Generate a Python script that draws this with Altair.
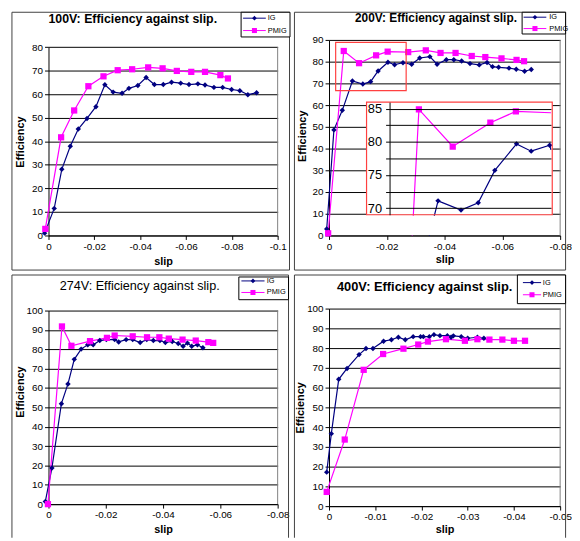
import altair as alt
import pandas as pd

FONT = "Liberation Sans"
SERIES = ["IG", "PMIG"]
SERIES_COLORS = ["#000080", "#ff00ff"]
SERIES_SHAPES = ["diamond", "square"]
SERIES_SIZES = [30, 40]

# ---------------- data ----------------
# 100V
slip_100_ig = [0.0017, -0.0025, -0.0058, -0.0095, -0.0130, -0.0168, -0.0207, -0.0246, -0.0282,
               -0.0321, -0.0351, -0.0390, -0.0426, -0.0462, -0.0501, -0.0537, -0.0577, -0.0613,
               -0.0652, -0.0683, -0.0722, -0.0760, -0.0799, -0.0835, -0.0870, -0.0908]
eff_100_ig = [1.0, 11.5, 28.1, 37.9, 45.2, 49.7, 54.7, 64.0, 60.9, 60.4, 62.5, 63.7, 67.1, 64.1,
              64.1, 65.1, 64.7, 64.1, 64.4, 63.9, 62.9, 62.9, 62.0, 61.5, 59.8, 60.6]
slip_100_pmig = [0.0014, -0.0055, -0.0112, -0.0174, -0.0240, -0.0302, -0.0365, -0.0435, -0.0498,
                 -0.0560, -0.0623, -0.0683, -0.0750, -0.0783]
eff_100_pmig = [2.8, 41.7, 53.1, 63.4, 67.6, 70.2, 70.6, 71.4, 71.0, 69.9, 69.5, 69.5, 68.1, 66.7]

# 200V
slip_200_ig = [0.0008, -0.0017, -0.0046, -0.0081, -0.0117, -0.0144, -0.0170, -0.0204, -0.0227,
               -0.0256, -0.0286, -0.0314, -0.0349, -0.0374, -0.0406, -0.0432, -0.0459, -0.0488,
               -0.0520, -0.0547, -0.0566, -0.0587, -0.0623, -0.0648, -0.0677, -0.0700]
eff_200_ig = [3.0, 48.6, 57.6, 71.1, 69.7, 70.8, 75.7, 79.7, 78.6, 79.5, 78.8, 81.7, 82.3, 78.8,
              80.9, 80.9, 80.3, 79.1, 78.5, 79.6, 77.7, 77.4, 77.0, 76.5, 75.6, 76.4]
slip_200_pmig = [0.0003, -0.0051, -0.0104, -0.0163, -0.0203, -0.0274, -0.0335, -0.0386, -0.0438,
                 -0.0494, -0.0541, -0.0597, -0.0649, -0.0675]
eff_200_pmig = [1.0, 84.9, 79.3, 82.9, 84.6, 84.4, 85.2, 84.0, 84.0, 82.6, 82.1, 81.5, 80.8, 80.2]

# 274V
slip_274_ig = [0.0011, -0.0012, -0.0045, -0.0068, -0.0090, -0.0114, -0.0137, -0.0156, -0.0179,
               -0.0202, -0.0231, -0.0245, -0.0271, -0.0294, -0.0320, -0.0343, -0.0366, -0.0389,
               -0.0408, -0.0432, -0.0453, -0.0470, -0.0485, -0.0500, -0.0520, -0.0539]
eff_274_ig = [1.4, 18.7, 51.9, 62.1, 74.8, 80.1, 82.3, 82.3, 84.5, 85.0, 85.0, 83.8, 85.0, 85.0,
              83.5, 85.0, 84.5, 84.5, 83.5, 84.0, 83.0, 81.6, 83.2, 81.6, 82.3, 80.8]
slip_274_pmig = [0.0002, -0.0047, -0.0080, -0.0145, -0.0204, -0.0231, -0.0294, -0.0344, -0.0387,
                 -0.0420, -0.0468, -0.0514, -0.0558, -0.0575]
eff_274_pmig = [0.0, 91.8, 81.8, 84.2, 85.9, 87.1, 86.7, 86.2, 86.2, 85.5, 85.0, 84.5, 83.7, 83.3]

# 400V
slip_400_ig = [0.0005, -0.0005, -0.0021, -0.0039, -0.0065, -0.0080, -0.0095, -0.0118, -0.0135,
               -0.0150, -0.0165, -0.0182, -0.0198, -0.0204, -0.0217, -0.0227, -0.0240, -0.0256,
               -0.0264, -0.0269, -0.0286, -0.0300, -0.0321, -0.0335]
eff_400_ig = [17.2, 36.7, 64.2, 69.7, 76.7, 79.8, 79.8, 83.5, 84.2, 85.5, 84.2, 85.8, 85.8, 85.8,
              85.8, 86.8, 86.3, 86.3, 85.5, 86.2, 85.8, 85.0, 85.5, 85.0]
slip_400_pmig = [0.0005, -0.0034, -0.0075, -0.0117, -0.0161, -0.0193, -0.0214, -0.0253, -0.0294,
                 -0.0321, -0.0347, -0.0375, -0.0400, -0.0424]
eff_400_pmig = [7.2, 33.7, 69.0, 77.0, 79.7, 81.8, 83.3, 84.5, 83.7, 84.5, 84.3, 84.3, 83.7, 83.7]

# axis ticks
x_ticks_100 = [0, -0.02, -0.04, -0.06, -0.08, -0.1]
x_ticks_200 = [0, -0.02, -0.04, -0.06, -0.08]
x_ticks_274 = [0, -0.02, -0.04, -0.06, -0.08]
x_ticks_400 = [0, -0.01, -0.02, -0.03, -0.04, -0.05]
y_ticks_100 = [0, 10, 20, 30, 40, 50, 60, 70, 80]
y_ticks_200 = [0, 10, 20, 30, 40, 50, 60, 70, 80, 90]
y_ticks_274 = [0, 10, 20, 30, 40, 50, 60, 70, 80, 90, 100]
y_ticks_400 = [0, 10, 20, 30, 40, 50, 60, 70, 80, 90, 100]

# 200V zoom window (main chart) and inset axes
zoom_slip = [-0.0023, -0.0267]
zoom_eff = [66.7, 88.9]
inset_slip_domain = [-0.0258, -0.0005]
inset_eff_domain = [69, 86]
inset_eff_ticks = [70, 72.5, 75, 77.5, 80, 82.5, 85]

LABEL_EXPR = "datum.value == 0 ? '0' : '-' + format(abs(datum.value), '.2~f')"


def make_df(ig_x, ig_y, pm_x, pm_y):
    rows = []
    for name, xs, ys in (("IG", ig_x, ig_y), ("PMIG", pm_x, pm_y)):
        for i, (x, y) in enumerate(zip(xs, ys)):
            rows.append({"slip": x, "eff": y, "series": name, "idx": i})
    return pd.DataFrame(rows)


one = pd.DataFrame({"k": [0]})

COLOR = alt.Color("series:N", scale=alt.Scale(domain=SERIES, range=SERIES_COLORS), legend=None)
SHAPE = alt.Shape("series:N", scale=alt.Scale(domain=SERIES, range=SERIES_SHAPES), legend=None)
SIZE = alt.Size("series:N", scale=alt.Scale(domain=SERIES, range=SERIES_SIZES), legend=None)


def box(x1, x2, y1, y2, fill="transparent", stroke="#404040", sw=1.0):
    return alt.Chart(one).mark_rect(fill=fill, stroke=stroke, strokeWidth=sw).encode(
        x=alt.value(x1), x2=alt.value(x2), y=alt.value(y1), y2=alt.value(y2))


def open_frame(x1, x2, y1, y2, stroke="#404040", sw=1.0):
    """Panel frame cut off at the bottom of the page (no bottom edge)."""
    mk = dict(color=stroke, strokeWidth=sw)
    return [
        alt.Chart(one).mark_rule(**mk).encode(x=alt.value(x1), x2=alt.value(x2), y=alt.value(y1)),
        alt.Chart(one).mark_rule(**mk).encode(x=alt.value(x1), y=alt.value(y1), y2=alt.value(y2)),
        alt.Chart(one).mark_rule(**mk).encode(x=alt.value(x2), y=alt.value(y1), y2=alt.value(y2)),
    ]


def legend_layers(bx1, bx2, by1, by2, ys, lx1, lx2, mx, tx):
    layers = [box(bx1, bx2, by1, by2, fill="white", stroke="black", sw=1)]
    for name, col, shp, sz, yy in zip(SERIES, SERIES_COLORS, SERIES_SHAPES, [22, 26], ys):
        layers.append(alt.Chart(one).mark_rule(color=col, strokeWidth=1).encode(
            x=alt.value(lx1), x2=alt.value(lx2), y=alt.value(yy)))
        layers.append(alt.Chart(one).mark_point(shape=shp, filled=True, color=col, size=sz, opacity=1).encode(
            x=alt.value(mx), y=alt.value(yy)))
        layers.append(alt.Chart(one).mark_text(align="left", baseline="middle", font=FONT, fontSize=7.5,
                                               color="black").encode(
            x=alt.value(tx), y=alt.value(yy), text=alt.value(name)))
    return layers


def title_layer(text, x, y, size, weight):
    return alt.Chart(one).mark_text(align="left", baseline="alphabetic", font=FONT, fontSize=size,
                                    fontWeight=weight, color="black").encode(
        x=alt.value(x), y=alt.value(y), text=alt.value(text))


def encodings(p):
    yscale = dict(domain=[0, p["ymax"]], nice=False, zero=False)
    if "yrange" in p:
        yscale["range"] = p["yrange"]
    X = alt.X("slip:Q", scale=alt.Scale(domain=[p["xmin"], 0], reverse=True, nice=False, zero=False),
              axis=alt.Axis(values=p["xticks"], labelExpr=LABEL_EXPR, title="slip", grid=False,
                            titleY=p["xtitle_y"], titleBaseline="middle", offset=p.get("xoff", 0)))
    Y = alt.Y("eff:Q", scale=alt.Scale(**yscale),
              axis=alt.Axis(values=p["yticks"], title="Efficiency", grid=True, titleX=p["ytitle_x"],
                            titleY=p["ytitle_y"], titleAngle=270, titleBaseline="middle",
                            titleAlign="center"))
    return X, Y


def data_layers(df, p, X, Y):
    border = alt.Chart(pd.DataFrame({"slip": [p["xmin"]], "eff": [0], "eff2": [p["ymax"]]})).mark_rule(
        color="#808080", strokeWidth=1).encode(x=X, y=Y, y2="eff2:Q")
    line = alt.Chart(df).mark_line(strokeWidth=1.2).encode(x=X, y=Y, color=COLOR, order="idx:Q")
    pts = alt.Chart(df).mark_point(filled=True, opacity=1).encode(x=X, y=Y, color=COLOR, shape=SHAPE, size=SIZE)
    return [border, line, pts]


def make_panel(df, p):
    X, Y = encodings(p)
    if p.get("open_frame"):
        layers = open_frame(*p["frame"])
    else:
        layers = [box(*p["frame"])]
    layers += data_layers(df, p, X, Y)
    layers.append(title_layer(*p["title"]))
    layers += legend_layers(*p["legend"])
    return alt.layer(*layers).properties(width=p["w"], height=p["h"])


p100 = dict(xmin=-0.1, ymax=80, xticks=x_ticks_100, yticks=y_ticks_100, yrange=[198, 7.3],
            xtitle_y=26.5, ytitle_x=-28, ytitle_y=103, w=232, h=198,
            frame=(-37, 244, -28, 233),
            title=("100V: Efficiency against slip.", 0, -17, 12.5, "bold"),
            legend=(195, 244.5, -28, -3, [-22, -9.5], 197, 220, 208.5, 222))
p200 = dict(xmin=-0.08, ymax=90, xticks=x_ticks_200, yticks=y_ticks_200,
            xtitle_y=24.5, ytitle_x=-27, ytitle_y=97, w=234, h=198,
            frame=(-35, 239.5, -28, 233),
            title=("200V: Efficiency against slip.", 26.3, -18.5, 12, "bold"),
            legend=(195.5, 239.5, -28, -6, [-23, -11.5], 197, 220, 208.5, 223))
p274 = dict(xmin=-0.08, ymax=100, xticks=x_ticks_274, yticks=y_ticks_274, yrange=[198, 2], xoff=-2,
            xtitle_y=25.5, ytitle_x=-28, ytitle_y=84, w=232, h=200,
            frame=(-37, 243, -34, 232), open_frame=True,
            title=("274V: Efficiency against slip.", 11.3, -19, 12.8, "normal"),
            legend=(192.7, 243, -32, -9, [-28, -16.3], 195.3, 218.7, 207, 221))
p400 = dict(xmin=-0.05, ymax=100, xticks=x_ticks_400, yticks=y_ticks_400,
            xtitle_y=23.5, ytitle_x=-28.7, ytitle_y=100, w=234, h=200,
            frame=(-35, 239.5, -34, 232), open_frame=True,
            title=("400V: Efficiency against slip.", 8, -17.3, 13, "bold"),
            legend=(190.7, 239.5, -34, -5, [-26.3, -14], 196.3, 214.7, 205.5, 216.5))

df100 = make_df(slip_100_ig, eff_100_ig, slip_100_pmig, eff_100_pmig)
df200 = make_df(slip_200_ig, eff_200_ig, slip_200_pmig, eff_200_pmig)
df274 = make_df(slip_274_ig, eff_274_ig, slip_274_pmig, eff_274_pmig)
df400 = make_df(slip_400_ig, eff_400_ig, slip_400_pmig, eff_400_pmig)

panel100 = make_panel(df100, p100)
panel274 = make_panel(df274, p274)
panel400 = make_panel(df400, p400)

# ---- 200V panel with zoom box and inset ----
X2, Y2 = encodings(p200)
zoom_df = pd.DataFrame({"slip": [zoom_slip[0]], "slip2": [zoom_slip[1]],
                        "eff": [zoom_eff[0]], "eff2": [zoom_eff[1]]})
zoom_box = alt.Chart(zoom_df).mark_rect(fill="transparent", stroke="#ff4040", strokeWidth=1.2).encode(
    x=X2, x2="slip2:Q", y=Y2, y2="eff2:Q")
main200 = alt.layer(box(*p200["frame"]), *data_layers(df200, p200, X2, Y2), zoom_box)

IX = alt.X("slip:Q", scale=alt.Scale(domain=inset_slip_domain, range=[224.7, 61.3], clamp=True,
                                     nice=False, zero=False), axis=None)
IY = alt.Y("eff:Q", scale=alt.Scale(domain=inset_eff_domain, range=[177, 63], nice=False, zero=False),
           axis=alt.Axis(orient="left", offset=-61.3, values=inset_eff_ticks,
                         labelExpr="datum.value % 5 == 0 ? datum.label : ''", grid=True,
                         labelFontSize=13, labelPadding=4, title=None, zindex=1))
inset_line = alt.Chart(df200).transform_filter(alt.datum.slip >= -0.029).mark_line(
    strokeWidth=1.2, clip=True).encode(x=IX, y=IY, color=COLOR, order="idx:Q")
inset_pts = alt.Chart(df200).transform_filter(alt.datum.slip >= inset_slip_domain[0]).mark_point(
    filled=True, opacity=1, clip=True).encode(x=IX, y=IY, color=COLOR, shape=SHAPE, size=SIZE)
inset200 = alt.layer(
    box(38, 226, 63, 177, fill="white", stroke="white", sw=0),
    inset_line, inset_pts,
    box(38, 226, 178, 197.4, fill="white", stroke="white", sw=0),
    box(38, 226, 63, 177, stroke="#ff4040", sw=1.2),
)
deco200 = alt.layer(title_layer(*p200["title"]), *legend_layers(*p200["legend"]))
panel200 = alt.layer(main200, inset200, deco200).resolve_scale(
    x="independent", y="independent").properties(width=p200["w"], height=p200["h"])

chart = alt.concat(
    panel100, panel200, panel274, panel400, columns=2,
    spacing={"row": 74, "column": 52}, bounds="flush", align="each",
    padding={"left": 3, "top": 0, "right": 0, "bottom": 0},
).configure_view(strokeWidth=0).configure_axis(
    labelFont=FONT, titleFont=FONT, labelFontSize=10, titleFontSize=11, titleFontWeight="bold",
    labelColor="black", titleColor="black", domainColor="black", tickColor="black",
    gridColor="black", gridWidth=1, tickSize=4, domainWidth=1,
).configure_axisX(labelPadding=2, labelFlush=False).configure_axisY(labelPadding=2)

chart.save("out.html", embed_options={"renderer": "svg", "actions": False})
